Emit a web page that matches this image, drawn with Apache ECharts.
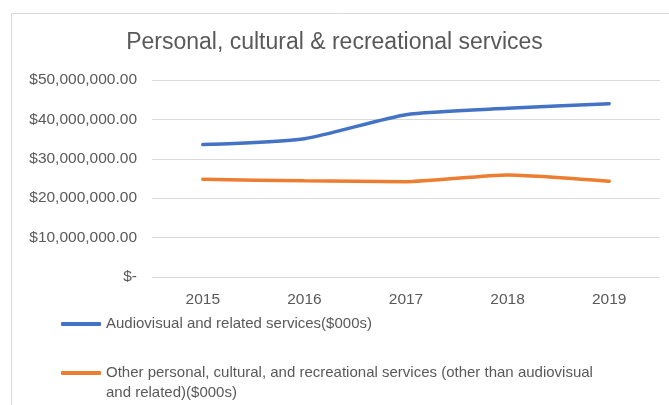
<!DOCTYPE html>
<html><head><meta charset="utf-8">
<script src="https://cdn.jsdelivr.net/npm/echarts@6/dist/echarts.min.js"></script>
<style>html,body{margin:0;padding:0;background:#fff}#c{width:669px;height:405px}</style>
</head><body><div id="c"></div>
<script>
const categories = ['2015','2016','2017','2018','2019'];
const audiovisual = [33600000, 35100000, 41200000, 42800000, 44000000];
const otherServices = [24800000, 24400000, 24200000, 25900000, 24300000];
const seriesNames = ['Audiovisual and related services($000s)', 'Other personal, cultural, and recreational services (other than audiovisual and related)($000s)'];
const yTicks = [0, 10000000, 20000000, 30000000, 40000000, 50000000];

const font = 'Liberation Sans, sans-serif';
function fmt(v){
  if (v === 0) return '$-';
  return '$' + v.toLocaleString('en-US', {minimumFractionDigits:2, maximumFractionDigits:2});
}
const chart = echarts.init(document.getElementById('c'));
chart.setOption({
  animation:false,
  backgroundColor:'#fff',
  graphic:[{type:'rect', left:9, top:11, shape:{width:720, height:440}, style:{fill:'none', stroke:'#d9d9d9', lineWidth:1}, silent:true}],
  title:{text:'Personal, cultural & recreational services', left:'center', top:26,
    textStyle:{fontFamily:font, fontSize:23, fontWeight:'normal', color:'#595959'}},
  grid:{left:152, right:9, top:80, height:197},
  xAxis:{type:'category', data:categories, boundaryGap:true,
    axisLine:{show:false}, axisTick:{show:false},
    axisLabel:{fontFamily:font, fontSize:15.5, color:'#595959', margin:15}},
  yAxis:{type:'value', min:yTicks[0], max:yTicks[yTicks.length-1], interval:10000000,
    axisLine:{show:false}, axisTick:{show:false},
    splitLine:{lineStyle:{color:'#d9d9d9', width:1}},
    axisLabel:{fontFamily:font, fontSize:15.5, color:'#595959', margin:15, formatter:fmt}},
  legend:[
    {orient:'vertical', left:56, top:309, itemWidth:40, itemHeight:4, icon:'roundRect',
      textStyle:{fontFamily:font, fontSize:15, color:'#595959', lineHeight:20},
      data:[seriesNames[0]]},
    {orient:'vertical', left:56, top:338, itemWidth:40, itemHeight:4, icon:'roundRect',
      formatter:function(n){ return ' \n' + n.replace('audiovisual and related)', 'audiovisual\nand related)'); },
      textStyle:{fontFamily:font, fontSize:15, color:'#595959', lineHeight:20},
      data:[seriesNames[1]]}
  ],
  series:[
    {name:seriesNames[0], type:'line', data:audiovisual, smooth:0.2, showSymbol:false, symbol:'none',
      lineStyle:{color:'#4472C4', width:3.5, cap:'round'}, itemStyle:{color:'#4472C4'}},
    {name:seriesNames[1], type:'line', data:otherServices, smooth:0.2, showSymbol:false, symbol:'none',
      lineStyle:{color:'#ED7D31', width:3.5, cap:'round'}, itemStyle:{color:'#ED7D31'}}
  ]
});
</script></body></html>
